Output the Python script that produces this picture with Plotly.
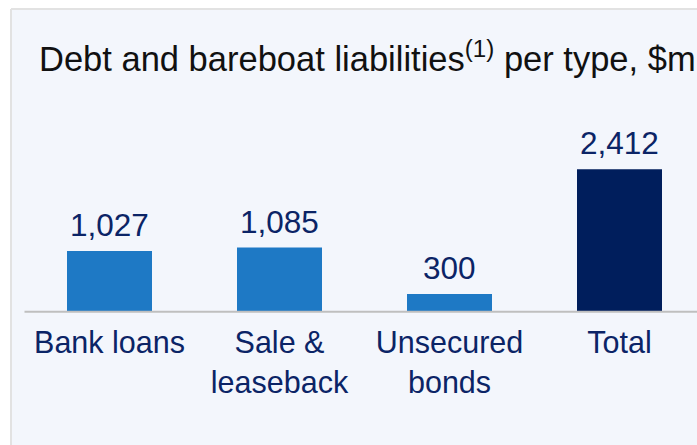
import plotly.graph_objects as go

# Debt and bareboat liabilities by type, $m
categories = ["Bank loans", "Sale &<br>leaseback", "Unsecured<br>bonds", "Total"]
values = [1027, 1085, 300, 2412]
bar_colors = ["#1E79C5", "#1E79C5", "#1E79C5", "#001E5C"]

W, H = 697, 445
# panel (plot area) in pixels
pl, pt, pr, pb = 11, 9, 697, 445
baseline_px = 311.7
px_per_unit = 0.0591
cat_px = 170.0
first_center_px = 109.5

x_lo = -0.5 - (first_center_px - cat_px / 2 - pl) / cat_px
x_hi = (pr - first_center_px) / cat_px
y_lo = -(pb - baseline_px) / px_per_unit
y_hi = (baseline_px - pt) / px_per_unit
axis_pos = (pb - baseline_px) / (pb - pt)

navy = "#0B2466"
font_family = "Arial, Liberation Sans, sans-serif"

fig = go.Figure(
    go.Bar(
        x=categories,
        y=values,
        width=0.5,
        marker=dict(color=bar_colors, line=dict(width=0)),
        hoverinfo="skip",
    )
)

# value labels above each bar
value_labels = [
    dict(x=c, y=v, xref="x", yref="y", text=f"{v:,}", showarrow=False,
         yanchor="bottom", yshift=6,
         font=dict(size=31.5, color=navy, family=font_family))
    for c, v in zip(categories, values)
]

fig.update_layout(
    width=W,
    height=H,
    margin=dict(l=pl, r=W - pr, t=pt, b=H - pb, pad=0),
    paper_bgcolor="white",
    plot_bgcolor="#F3F6FC",
    showlegend=False,
    font=dict(family=font_family, color=navy),
    title=dict(
        text="Debt and bareboat liabilities<sup>(1)</sup> per type, $m",
        x=39 / W,
        xanchor="left",
        xref="container",
        y=1 - 59 / H,
        yanchor="middle",
        yref="container",
        font=dict(size=34.5, color="#111111", family=font_family),
    ),
    xaxis=dict(
        range=[x_lo, x_hi],
        anchor="free",
        position=axis_pos,
        showgrid=False,
        zeroline=False,
        showline=False,
        ticks="outside",
        ticklen=4,
        tickcolor="rgba(0,0,0,0)",
        tickfont=dict(size=30.5, color=navy, family=font_family),
    ),
    yaxis=dict(
        range=[y_lo, y_hi],
        visible=False,
        showgrid=False,
        zeroline=False,
    ),
    annotations=value_labels,
    shapes=[
        # baseline under the bars
        dict(type="line", xref="x", yref="y", x0=-0.5, x1=x_hi, y0=0, y1=0,
             line=dict(color="#BFBFBF", width=2)),
        # panel border (left and top)
        dict(type="line", xref="paper", yref="paper", x0=0, x1=0, y0=0, y1=1,
             line=dict(color="#E2E2E2", width=2)),
        dict(type="line", xref="paper", yref="paper", x0=0, x1=1, y0=1, y1=1,
             line=dict(color="#E2E2E2", width=2)),
    ],
)

fig.write_html("out.html")
